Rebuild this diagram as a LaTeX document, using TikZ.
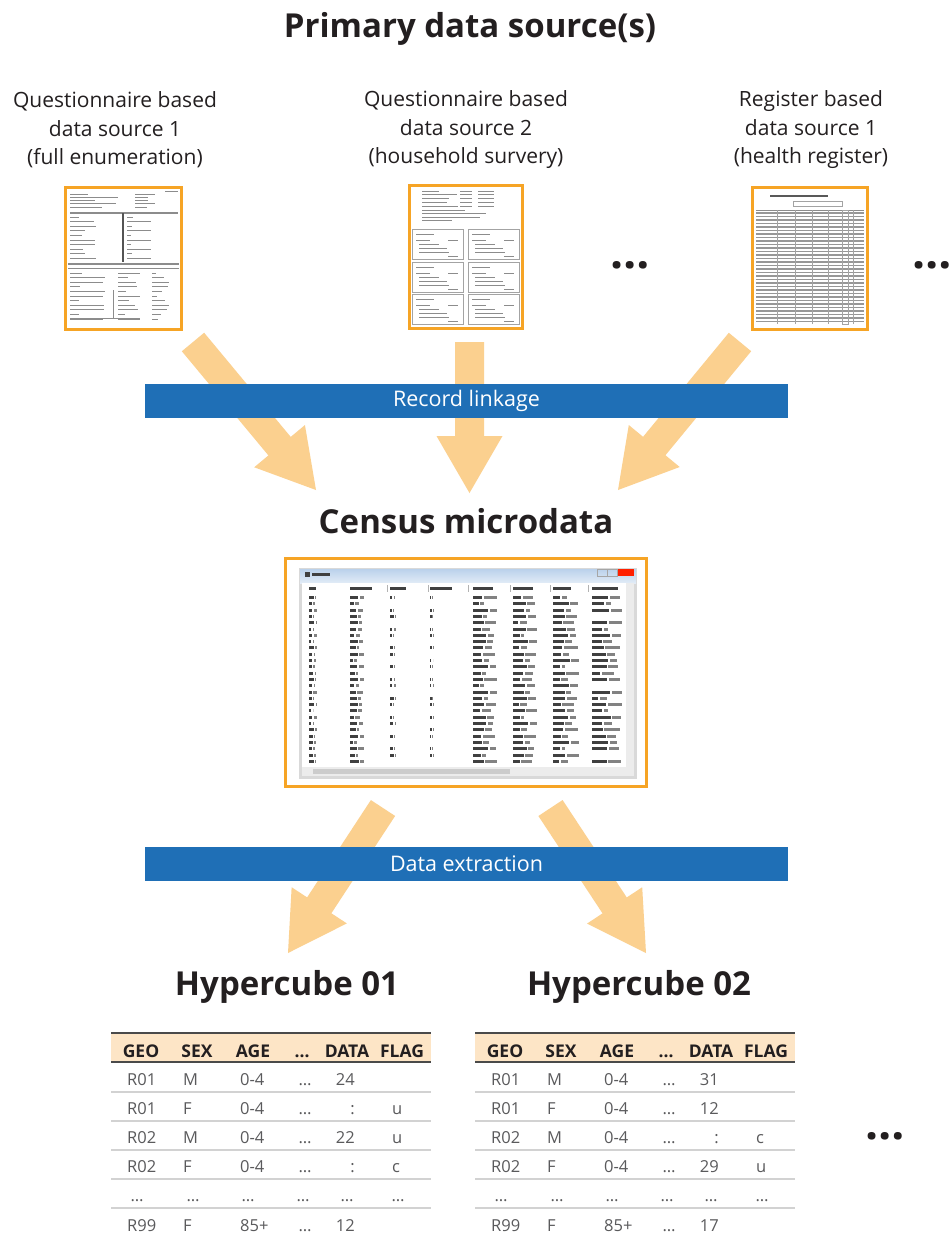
\documentclass[tikz,border=0pt]{standalone}
\usepackage{fontspec}
\setmainfont{Open Sans}
\usetikzlibrary{calc}

\definecolor{ink}{HTML}{231F20}
\definecolor{barblue}{HTML}{1F6FB6}
\definecolor{arrowfill}{HTML}{FBD08F}
\definecolor{frameorange}{HTML}{F6A425}
\definecolor{headfill}{HTML}{FDE5C6}
\definecolor{cellgray}{HTML}{5A5A5C}
\definecolor{rulegray}{HTML}{D2D2D2}
\definecolor{headrule}{HTML}{4A4A4A}
\definecolor{winblue}{HTML}{9DBEE3}
\definecolor{scan}{HTML}{8C8C8C}

\tikzset{
  title/.style={font=\bfseries\fontsize{33}{38}\selectfont, text=ink, inner sep=0pt, anchor=base},
  caption/.style={font=\fontsize{21}{28.5}\selectfont, text=ink, align=center, inner sep=0pt},
  bar/.style={fill=barblue, text=white, font=\fontsize{21.5}{24}\selectfont,
    minimum width=643pt, minimum height=34pt, inner sep=0pt},
  docframe/.style={draw=frameorange, line width=3pt, fill=white, inner sep=0pt},
  more/.style={font=\bfseries\fontsize{46}{46}\selectfont, text=ink, inner sep=0pt, anchor=base},
  hd/.style={font=\bfseries\fontsize{17.5}{20}\selectfont, text=ink, inner sep=0pt, anchor=base},
  cell/.style={font=\fontsize{16.5}{20}\selectfont, text=cellgray, inner sep=0pt},
  docline/.style={draw=scan, line width=1pt},
  docbox/.style={draw=scan!80, line width=0.7pt},
  pixmark/.style={fill=black!75},
}

% broad flow arrow from coordinate #1 to coordinate #2
\newcommand\fatarrow[2]{%
  \coordinate (hb) at ($(#2)!57pt!(#1)$);
  \fill[arrowfill] ($(#1)!14.5pt!90:(#2)$) -- ($(hb)!14.5pt!-90:(#1)$)
    -- ($(hb)!33pt!-90:(#1)$) -- (#2) -- ($(hb)!33pt!90:(#1)$)
    -- ($(hb)!14.5pt!90:(#1)$) -- ($(#1)!14.5pt!-90:(#2)$) -- cycle;
}

% one data row of a hypercube table: #1 name prefix, #2 x offset, #3 baseline,
% #4 geo, #5 sex, #6 age, #7 data, #8 flag
\newcommand\hrow[8]{%
  \node[cell, anchor=base west] (#1geo) at (#2+127,#3) {#4};
  \node[cell, anchor=base west] (#1sex) at (#2+183,#3) {#5};
  \node[cell, anchor=base west] (#1age) at (#2+240,#3) {#6};
  \node[cell, anchor=base] (#1dots) at (#2+305,#3) {…};
  \node[cell, anchor=base east] (#1data) at (#2+355,#3) {#7};
  \node[cell, anchor=base west] (#1flag) at (#2+392,#3) {#8};
}

% frame, header and rules of a hypercube table at x offset #1, name prefix #2
\newcommand\htable[2]{%
  \fill[headfill] (#1+111,1033) rectangle (#1+431,1062);
  \draw[headrule, line width=1.2pt] (#1+111,1033) -- (#1+431,1033);
  \draw[headrule, line width=1.6pt] (#1+111,1062) -- (#1+431,1062);
  \foreach \yy in {1092,1121,1150,1179,1208}
    \draw[rulegray, line width=1.3pt] (#1+111,\yy) -- (#1+431,\yy);
  \node[hd] (#2hgeo) at (#1+141,1057) {GEO};
  \node[hd] (#2hsex) at (#1+197,1057) {SEX};
  \node[hd] (#2hage) at (#1+253,1057) {AGE};
  \node[hd] (#2hdots) at (#1+302,1057) {…};
  \node[hd] (#2hdata) at (#1+347,1057) {DATA};
  \node[hd] (#2hflag) at (#1+402,1057) {FLAG};
  \node[cell, anchor=base] (#2e1) at (#1+137,1201) {…};
  \node[cell, anchor=base] (#2e2) at (#1+193,1201) {…};
  \node[cell, anchor=base] (#2e3) at (#1+248,1201) {…};
  \node[cell, anchor=base] (#2e4) at (#1+303,1201) {…};
  \node[cell, anchor=base] (#2e5) at (#1+347,1201) {…};
  \node[cell, anchor=base] (#2e6) at (#1+398,1201) {…};
}

\begin{document}
\begin{tikzpicture}[x=1pt, y=-1pt]
\fill[white] (0,0) rectangle (950,1235);
\useasboundingbox (0,0) rectangle (950,1235);

% ---------- sources ----------
\node[title] (primary) at (470,37) {Primary data source(s)};
\node[caption] (q1cap) at (115,130) {Questionnaire based\\data source 1\\(full enumeration)};
\node[caption] (q2cap) at (466,130) {Questionnaire based\\data source 2\\(household survery)};
\node[caption] (r1cap) at (811,130) {Register based\\data source 1\\(health register)};

\node[docframe, minimum width=116pt, minimum height=142pt] (doc1) at (123.5,258) {};
\node[docframe, minimum width=113pt, minimum height=143pt] (doc2) at (466,257) {};
\node[docframe, minimum width=115pt, minimum height=142pt] (doc3) at (810,258) {};

\node[more] (more1) at (630,268) {…};
\node[more] (more2) at (932,268) {…};

% form sheet
\begin{scope}
  \draw[docline] (165,191) -- (178,191);
  \foreach \k in {0,...,4} {
    \pgfmathsetmacro\yy{194+\k*3.3}
    \pgfmathsetmacro\la{18+30*abs(sin(\k*83))}
    \pgfmathsetmacro\lb{6+14*abs(cos(\k*61))}
    \draw[docline] (70,\yy) -- ++(\la,0);
    \draw[docline] (135,\yy) -- ++(\lb,0);
  }
  \draw[docline, line width=1.3pt] (70,213) -- (178,213);
  \draw[scan!60!black, line width=2pt] (123,213) -- (123,262);
  \foreach \k in {0,...,9} {
    \pgfmathsetmacro\yy{217+\k*4.6}
    \pgfmathsetmacro\la{5+22*abs(sin(\k*47+11))}
    \pgfmathsetmacro\lb{4+20*abs(sin(\k*89+5))}
    \draw[docline] (70,\yy) -- ++(\la,0);
    \draw[docline] (127,\yy) -- ++(\lb,0);
  }
  \draw[docline, line width=1.4pt] (68,264) -- (179,264);
  \draw[docline] (68,268) -- (179,268);
  \foreach \k in {0,...,10} {
    \pgfmathsetmacro\yy{273+\k*4.6}
    \pgfmathsetmacro\la{8+30*abs(sin(\k*59+7))}
    \pgfmathsetmacro\lb{4+18*abs(cos(\k*71))}
    \pgfmathsetmacro\lc{3+14*abs(sin(\k*37+3))}
    \draw[docline] (70,\yy) -- ++(\la,0);
    \draw[docline] (118,\yy) -- ++(\lb,0);
    \draw[docline] (152,\yy) -- ++(\lc,0);
  }
  \draw[docline] (113,290) -- (113,318);
  \draw[docline] (70,318) -- (140,318);
\end{scope}

% survey sheet
\begin{scope}
  \foreach \k in {0,...,4} {
    \pgfmathsetmacro\yy{191+\k*3.8}
    \pgfmathsetmacro\la{14+22*abs(sin(\k*67+9))}
    \draw[docline] (422,\yy) -- ++(\la,0);
    \draw[docline] (460,\yy) -- ++(12,0);
    \draw[docline] (478,\yy) -- ++(16,0);
  }
  \foreach \k in {0,...,3} {
    \pgfmathsetmacro\yy{210+\k*3.6}
    \pgfmathsetmacro\la{30+35*abs(sin(\k*53+21))}
    \draw[docline] (422,\yy) -- ++(\la,0);
  }
  \foreach \xo in {412,468} {
    \foreach \yo in {229,262,294} {
      \draw[docbox] (\xo,\yo) rectangle ++(51,30);
      \draw[docline, line width=0.8pt] (\xo+4,\yo+5) -- ++(18,0);
      \draw[docline, line width=0.8pt] (\xo+4,\yo+11) -- ++(14,0);
      \draw[docline, line width=0.8pt] (\xo+36,\yo+11) -- ++(10,0);
      \draw[docline, line width=0.8pt] (\xo+7,\yo+15) -- ++(20,0);
      \draw[docline, line width=0.8pt] (\xo+7,\yo+19) -- ++(28,0);
      \draw[docline, line width=0.8pt] (\xo+7,\yo+23) -- ++(30,0);
      \draw[docline, line width=0.8pt] (\xo+36,\yo+27) -- ++(10,0);
    }
  }
\end{scope}

% register sheet
\begin{scope}
  \draw[black!65, line width=2pt] (770,196) -- (828,196);
  \draw[docbox] (793,201) rectangle (842,206);
  \draw[docline] (756,210) -- (864,210);
  \foreach \k in {0,...,31} {
    \pgfmathsetmacro\yy{213+\k*3.5}
    \draw[scan!90, line width=1.1pt] (756,\yy) -- (864,\yy);
  }
  \foreach \xx in {777,795,812,828,853}
    \draw[docbox] (\xx,210) -- (\xx,324);
  \draw[docbox, line width=1pt] (842,210) rectangle (848,324);
\end{scope}

% ---------- record linkage ----------
\coordinate (s1) at (193,342);   \coordinate (e1) at (316,490);
\coordinate (s2) at (469.5,342); \coordinate (e2) at (469.5,493);
\coordinate (s3) at (740,342);   \coordinate (e3) at (618,490);
\fatarrow{s1}{e1}
\fatarrow{s2}{e2}
\fatarrow{s3}{e3}
\node[bar] (linkage) at (466.5,401) {Record linkage};

% ---------- census microdata ----------
\node[title] (census) at (466,533) {Census microdata};
\node[docframe, minimum width=361pt, minimum height=228pt] (micro) at (466,672.5) {};

\begin{scope}
  \fill[gray!30] (299,568) rectangle (637,779);
  \shade[top color=winblue!70, bottom color=winblue!30] (300,569) rectangle (636,583);
  \fill[white] (302,583) rectangle (634,767);
  \fill[pixmark] (305,572) rectangle (310,577);
  \fill[pixmark] (312,573) rectangle (330,576);
  \draw[gray!70] (597,569) rectangle (607,576);
  \draw[gray!70] (607,569) rectangle (617,576);
  \fill[red!75!orange] (618,569) rectangle (634,576);
  % column captions and separators
  \foreach \xx/\w in {309/7,350/22,390/16,430/22,473/20,513/20,553/18,592/26}
    \fill[pixmark] (\xx,587) rectangle ++(\w,3);
  \foreach \xx in {387,428,468,510,550,588}
    \draw[gray!60] (\xx,585) -- (\xx,592);
  % data rows, each cell split into two glyph clusters
  \foreach \i in {0,...,26} {
    \pgfmathsetmacro\yy{596+\i*6.3}
    \foreach \xx/\w/\c/\lim in {309/8/1/-1.1,350/14/2/-1.1,390/6/3/-0.5,430/3/4/-0.3,473/24/5/-1.1,513/24/6/-1.1,553/26/7/-1.1,592/30/8/-0.9} {
      \pgfmathsetmacro\ww{0.45*\w+0.55*\w*abs(sin(\i*97+\c*53))}
      \pgfmathsetmacro\wa{\ww*(0.35+0.3*abs(cos(\i*41+\c*17)))}
      \pgfmathsetmacro\vis{sin(\i*131+\c*29)}
      \ifdim\vis pt>\lim pt
        \fill[pixmark] (\xx,\yy) rectangle ++(\wa,3);
        \fill[pixmark, fill opacity=0.65] (\xx+\wa+1.5,\yy) rectangle (\xx+\ww,\yy+3);
      \fi
    }
  }
  \fill[gray!15] (626,583) rectangle (634,767);
  \fill[gray!15] (302,767) rectangle (634,776);
  \fill[gray!40] (313,769) rectangle (510,774);
\end{scope}

% ---------- data extraction ----------
\coordinate (s4) at (383,808);   \coordinate (e4) at (288,953);
\coordinate (s5) at (550.5,808); \coordinate (e5) at (646,953);
\fatarrow{s4}{e4}
\fatarrow{s5}{e5}
\node[bar] (extraction) at (466.5,863.5) {Data extraction};

% ---------- hypercubes ----------
\node[title] (cube1) at (287,995) {Hypercube 01};
\node[title] (cube2) at (639,995) {Hypercube 02};

\htable{0}{a}
\hrow{a1}{0}{1085}{R01}{M}{0-4}{24}{}
\hrow{a2}{0}{1114}{R01}{F}{0-4}{:}{u}
\hrow{a3}{0}{1143}{R02}{M}{0-4}{22}{u}
\hrow{a4}{0}{1172}{R02}{F}{0-4}{:}{c}
\hrow{a6}{0}{1231}{R99}{F}{85+}{12}{}

\htable{364}{b}
\hrow{b1}{364}{1085}{R01}{M}{0-4}{31}{}
\hrow{b2}{364}{1114}{R01}{F}{0-4}{12}{}
\hrow{b3}{364}{1143}{R02}{M}{0-4}{:}{c}
\hrow{b4}{364}{1172}{R02}{F}{0-4}{29}{u}
\hrow{b6}{364}{1231}{R99}{F}{85+}{17}{}

\node[more] (more3) at (885,1139) {…};
\end{tikzpicture}
\end{document}
